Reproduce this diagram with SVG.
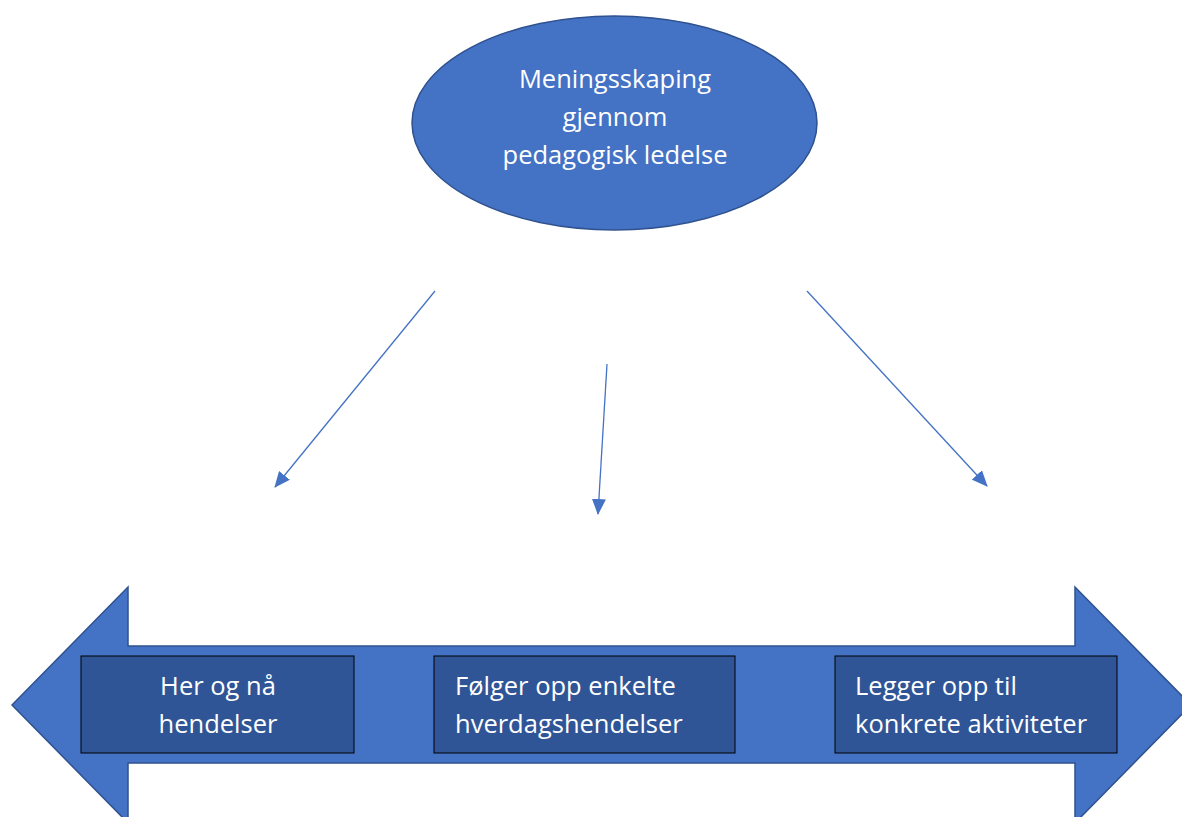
<svg xmlns="http://www.w3.org/2000/svg" width="1182" height="817" viewBox="0 0 1182 817">
<style>
.shape{fill:#4472C4;stroke:#2F528F;stroke-width:1.5}
.box{fill:#2F5597;stroke:#000;stroke-width:1}
.t{font-family:"Open Sans","Liberation Sans",sans-serif;font-size:25.5px;fill:#fff}
.c{stroke:#4472C4;stroke-width:1.3;fill:none;marker-end:url(#ah)}
</style>
<defs>
<marker id="ah" markerWidth="16" markerHeight="14" refX="15" refY="7" orient="auto" markerUnits="userSpaceOnUse">
<path d="M0,0 L16,7 L0,14 Z" fill="#4472C4"/>
</marker>
</defs>
<rect width="1182" height="817" fill="#fff"/>
<g id="top">
<ellipse class="shape" cx="614.5" cy="123" rx="202.5" ry="107"/>
<text class="t" text-anchor="middle"><tspan x="615" y="88">Meningsskaping</tspan><tspan x="615" y="126">gjennom</tspan><tspan x="615" y="164">pedagogisk ledelse</tspan></text>
</g>
<g id="bigarrow">
<polygon class="shape" points="12,705 128,587 128,646 1075,646 1075,587 1191,705 1075,823 1075,763 128,763 128,823"/>
</g>
<g id="box1">
<rect class="box" x="81" y="656" width="273" height="97"/>
<text class="t" text-anchor="middle"><tspan x="218" y="695">Her og nå</tspan><tspan x="218" y="733">hendelser</tspan></text>
</g>
<g id="box2">
<rect class="box" x="434" y="656" width="301" height="97"/>
<text class="t"><tspan x="455" y="695">Følger opp enkelte</tspan><tspan x="455" y="733">hverdagshendelser</tspan></text>
</g>
<g id="box3">
<rect class="box" x="835" y="656" width="282" height="97"/>
<text class="t"><tspan x="855" y="695">Legger opp til</tspan><tspan x="855" y="733">konkrete aktiviteter</tspan></text>
</g>
<g id="connectors">
<line class="c" x1="435" y1="291" x2="275" y2="487"/>
<line class="c" x1="607" y1="364" x2="598" y2="514"/>
<line class="c" x1="807" y1="291" x2="987" y2="486"/>
</g>
</svg>
